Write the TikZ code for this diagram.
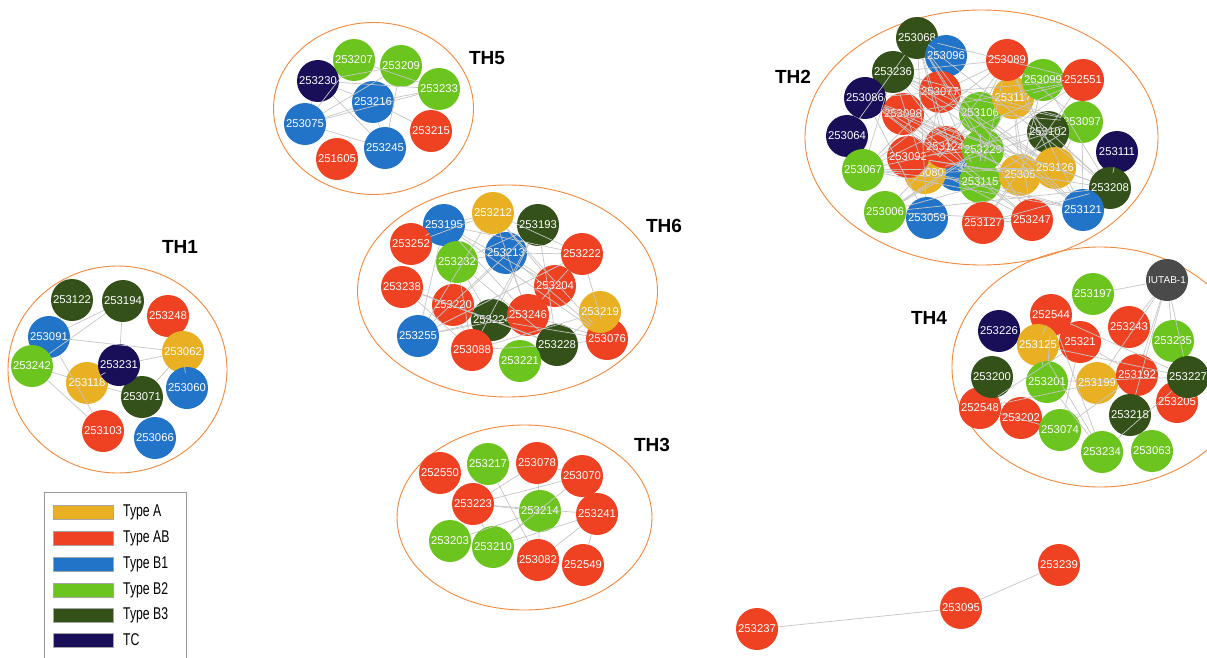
\documentclass[tikz,border=0pt]{standalone}
\usepackage{fontspec}
\setmainfont{Liberation Sans}
\setsansfont{Liberation Sans}
\definecolor{cA}{HTML}{E8B022}
\definecolor{cAB}{HTML}{EE4222}
\definecolor{cBa}{HTML}{2274C8}
\definecolor{cBb}{HTML}{6CC41E}
\definecolor{cBc}{HTML}{34511A}
\definecolor{cTC}{HTML}{180F58}
\definecolor{cIU}{HTML}{4A4A4A}
\definecolor{cEll}{HTML}{F4883A}
\definecolor{cEdge}{HTML}{C6C6C6}
\tikzset{
  nd/.style={circle, minimum size=42pt, inner sep=0pt, text=white, font=\fontsize{11.3}{13}\selectfont},
  tA/.style={nd, fill=cA},
  tAB/.style={nd, fill=cAB},
  tBa/.style={nd, fill=cBa},
  tBb/.style={nd, fill=cBb},
  tBc/.style={nd, fill=cBc},
  tTC/.style={nd, fill=cTC},
  tIU/.style={nd, fill=cIU, font=\fontsize{10}{12}\selectfont},
  edge/.style={draw=cEdge, line width=0.7pt},
  clus/.style={draw=cEll, line width=0.9pt},
  thl/.style={font=\bfseries\fontsize{19}{22}\selectfont, text=black, inner sep=0pt},
  sw/.style={draw=gray!70, line width=0.4pt, minimum width=60pt, minimum height=14pt, inner sep=0pt, anchor=west},
  lgt/.style={anchor=west, inner sep=0pt, font=\fontsize{17}{19}\selectfont}
}
\newcommand\gnode[4]{\node[#1] (n#2) at (#3,-#4) {#2};}
\begin{document}
\begin{tikzpicture}[x=1pt,y=1pt]
\useasboundingbox (0,0) rectangle (1207,-658);
\clip (0,0) rectangle (1207,-658);
\fill[white] (0,0) rectangle (1207,-658);

% cluster outlines
\draw[clus] (373.5,-108.5) ellipse [x radius=100, y radius=86];
\draw[clus] (507.5,-291) ellipse [x radius=150, y radius=106];
\draw[clus] (117.5,-369.5) ellipse [x radius=109.5, y radius=103.5];
\draw[clus] (524.5,-517.5) ellipse [x radius=127.5, y radius=92.5];
\draw[clus] (981.5,-137.5) ellipse [x radius=176.5, y radius=127.5];
\draw[clus] (1100,-367) ellipse [x radius=148, y radius=120];

% cluster labels
\node[thl] (lTH5) at (487,-58) {TH5};
\node[thl] (lTH6) at (664,-226) {TH6};
\node[thl] (lTH1) at (180,-247) {TH1};
\node[thl] (lTH3) at (652,-445) {TH3};
\node[thl] (lTH2) at (793,-77) {TH2};
\node[thl] (lTH4) at (929,-318) {TH4};

% TH5
\gnode{tBb}{253207}{354}{60}
\gnode{tBb}{253209}{401}{66}
\gnode{tBb}{253233}{439}{89}
\gnode{tTC}{253230}{318}{81}
\gnode{tBa}{253216}{373}{102}
\gnode{tBa}{253075}{305}{124}
\gnode{tAB}{253215}{431}{131}
\gnode{tBa}{253245}{385}{148}
\gnode{tAB}{251605}{337}{159}

% TH6
\gnode{tBa}{253195}{444}{225}
\gnode{tA}{253212}{493}{213}
\gnode{tBc}{253193}{538}{225}
\gnode{tAB}{253252}{411}{244}
\gnode{tBb}{253232}{457}{262}
\gnode{tBa}{253213}{506}{253}
\gnode{tAB}{253222}{582}{254}
\gnode{tAB}{253238}{402}{287}
\gnode{tAB}{253204}{555}{286}
\gnode{tAB}{253220}{453}{305}
\gnode{tBc}{253224}{492}{320}
\gnode{tAB}{253246}{528}{315}
\gnode{tAB}{253076}{607}{339}
\gnode{tA}{253219}{600}{312}
\gnode{tBa}{253255}{418}{336}
\gnode{tAB}{253088}{472}{350}
\gnode{tBc}{253228}{557}{345}
\gnode{tBb}{253221}{520}{361}

% TH1
\gnode{tBc}{253122}{72}{300}
\gnode{tBc}{253194}{123}{301}
\gnode{tAB}{253248}{168}{316}
\gnode{tBa}{253091}{49}{337}
\gnode{tA}{253062}{183}{352}
\gnode{tBb}{253242}{32}{366}
\gnode{tBa}{253060}{187}{388}
\gnode{tA}{253118}{87}{383}
\gnode{tBa}{253066}{155}{438}
\gnode{tBc}{253071}{142}{397}
\gnode{tTC}{253231}{119}{365}
\gnode{tAB}{253103}{103}{431}

% TH3
\gnode{tAB}{252550}{440}{473}
\gnode{tBb}{253217}{488}{464}
\gnode{tAB}{253078}{537}{463}
\gnode{tAB}{253070}{582}{476}
\gnode{tAB}{253223}{473}{504}
\gnode{tBb}{253214}{540}{511}
\gnode{tAB}{253241}{597}{514}
\gnode{tBb}{253203}{450}{541}
\gnode{tBb}{253210}{493}{547}
\gnode{tAB}{253082}{538}{560}
\gnode{tAB}{252549}{583}{565}

% TH2
\gnode{tBc}{253068}{917}{38}
\gnode{tBa}{253096}{946}{56}
\gnode{tBc}{253236}{893}{72}
\gnode{tTC}{253086}{865}{98}
\gnode{tTC}{253064}{847}{136}
\gnode{tBb}{253067}{863}{170}
\gnode{tBb}{253006}{885}{212}
\gnode{tBa}{253059}{927}{218}
\gnode{tAB}{253077}{940}{92}
\gnode{tAB}{253098}{903}{114}
\node[nd, fill=cBa] (n253300) at (957,-170) {};
\node[nd, fill=none, text=white] (t253300) at (957,-168) {\hspace*{14pt}30};
\gnode{tA}{253080}{925}{173}
\gnode{tAB}{253092}{908}{157}
\gnode{tAB}{253124}{945}{147}
\gnode{tBb}{253106}{980}{113}
\gnode{tA}{253117}{1013}{98}
\gnode{tBb}{253229}{983}{150}
\gnode{tBb}{253115}{980}{182}
\gnode{tAB}{253127}{983}{223}
\gnode{tAB}{253247}{1032}{220}
\gnode{tAB}{253089}{1007}{60}
\gnode{tBb}{253099}{1043}{80}
\gnode{tAB}{252551}{1083}{80}
\gnode{tBb}{253097}{1082}{122}
\gnode{tBc}{253102}{1048}{132}
\gnode{tA}{25305}{1020}{175}
\gnode{tA}{253126}{1055}{168}
\gnode{tTC}{253111}{1117}{152}
\gnode{tBc}{253208}{1110}{188}
\gnode{tBa}{253121}{1083}{210}

% TH4
\node[tIU] (niutab) at (1167,-280) {IUTAB-1};
\gnode{tBb}{253197}{1093}{294}
\gnode{tAB}{252544}{1051}{315}
\gnode{tTC}{253226}{999}{331}
\gnode{tAB}{25321}{1080}{342}
\gnode{tAB}{253243}{1129}{327}
\gnode{tA}{253125}{1038}{345}
\gnode{tBb}{253235}{1173}{341}
\gnode{tAB}{252548}{980}{408}
\gnode{tBc}{253200}{992}{377}
\gnode{tBb}{253201}{1047}{382}
\gnode{tA}{253199}{1097}{383}
\gnode{tAB}{253192}{1137}{375}
\gnode{tAB}{253205}{1177}{402}
\gnode{tBc}{253227}{1188}{377}
\gnode{tAB}{253202}{1021}{418}
\gnode{tBb}{253074}{1060}{430}
\gnode{tBc}{253218}{1130}{415}
\gnode{tBb}{253234}{1102}{452}
\gnode{tBb}{253063}{1152}{451}

% bottom component
\gnode{tAB}{253237}{757}{629}
\gnode{tAB}{253095}{961}{608}
\gnode{tAB}{253239}{1059}{565}

% edges
\draw[edge] (n253237) -- (n253095);
\draw[edge] (n253095) -- (n253239);

\foreach \a/\b in {253230/253209,253230/253233,253230/253216,253230/253075,253075/253216,253075/253233,253075/253209,253075/253245,253075/253207,253216/253245,253209/253245,253233/253215,253216/253215,253216/253233,253207/253233,253230/253245}
  \draw[edge] (n\a) -- (n\b);

\foreach \a/\b in {253091/253194,253091/253062,253242/253194,253242/253118,253242/253103,253231/253194,253231/253062,253091/253103,253060/253062,253071/253118,253231/253118,253122/253091,253071/253062}
  \draw[edge] (n\a) -- (n\b);

\foreach \a/\b in {253223/253241,253223/253078,253223/253070,253214/253078,253214/253082,253210/253241,253210/253070,253217/253082,253223/253210,253082/253241,252549/253241,253210/253214,253203/253214,253078/253070,253223/253214}
  \draw[edge] (n\a) -- (n\b);

\foreach \a/\b in {iutab/n253197,iutab/n253218,iutab/n253192,iutab/n253235,iutab/n253227,iutab/n253243,iutab/n253199}
  \draw[edge] (n\a) -- (\b);

\def\thsix{n253195,n253212,n253193,n253252,n253232,n253213,n253222,n253238,n253204,n253220,n253224,n253246,n253219,n253255,n253088,n253228,n253076,n253221}
\foreach \a [count=\i] in \thsix {
  \foreach \b [count=\j] in \thsix {
    \pgfmathtruncatemacro\kk{mod(\i*7+\j*11+\i*\j,5)}
    \ifnum\j>\i\relax \ifnum\kk<2\relax \draw[edge] (\a) -- (\b); \fi\fi
  }
}

\def\thtwo{n253068,n253096,n253236,n253086,n253064,n253067,n253006,n253059,n253077,n253098,n253300,n253080,n253092,n253124,n253106,n253117,n253229,n253115,n253127,n253247,n253089,n253099,n252551,n253097,n253102,n25305,n253126,n253111,n253208,n253121}
\foreach \a [count=\i] in \thtwo {
  \foreach \b [count=\j] in \thtwo {
    \pgfmathtruncatemacro\kk{mod(\i*5+\j*13+\i*\j,3)}
    \ifnum\j>\i\relax \ifnum\kk=0\relax \draw[edge] (\a) -- (\b); \fi\fi
  }
}

\def\thfour{n253197,n252544,n253226,n25321,n253243,n253125,n253235,n252548,n253200,n253201,n253199,n253192,n253205,n253227,n253202,n253074,n253218,n253234,n253063}
\foreach \a [count=\i] in \thfour {
  \foreach \b [count=\j] in \thfour {
    \pgfmathtruncatemacro\kk{mod(\i*7+\j*3+\i*\j,4)}
    \ifnum\j>\i\relax \ifnum\kk=0\relax \draw[edge] (\a) -- (\b); \fi\fi
  }
}

% legend
\node[draw=gray!80, line width=0.6pt, minimum width=142pt, minimum height=190pt, anchor=north west, inner sep=0pt] (legend) at (44,-492) {};
\node[sw, fill=cA] (swA) at (53,-512) {};
\node[lgt] (ltA) at (123,-512) {\scalebox{0.72}[1]{Type A}};
\node[sw, fill=cAB] (swAB) at (53,-538) {};
\node[lgt] (ltAB) at (123,-538) {\scalebox{0.72}[1]{Type AB}};
\node[sw, fill=cBa] (swBa) at (53,-564) {};
\node[lgt] (ltBa) at (123,-564) {\scalebox{0.72}[1]{Type B1}};
\node[sw, fill=cBb] (swBb) at (53,-590) {};
\node[lgt] (ltBb) at (123,-590) {\scalebox{0.72}[1]{Type B2}};
\node[sw, fill=cBc] (swBc) at (53,-615) {};
\node[lgt] (ltBc) at (123,-615) {\scalebox{0.72}[1]{Type B3}};
\node[sw, fill=cTC] (swTC) at (53,-640) {};
\node[lgt] (ltTC) at (123,-640) {\scalebox{0.72}[1]{TC}};
\end{tikzpicture}
\end{document}
